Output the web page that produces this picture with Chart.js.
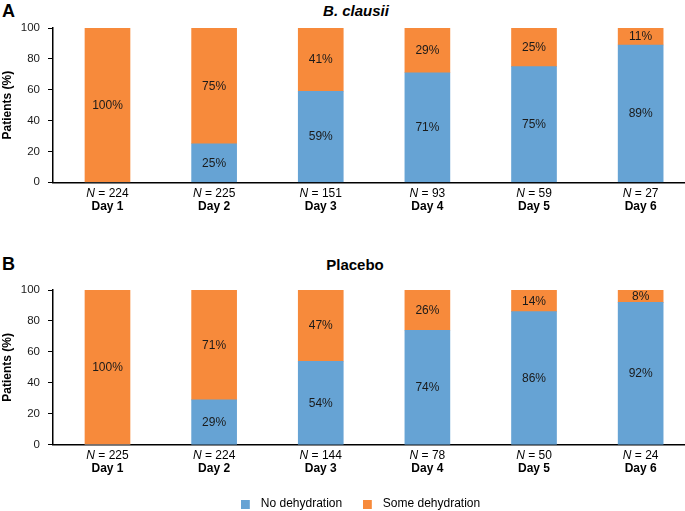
<!DOCTYPE html>
<html><head><meta charset="utf-8">
<script src="https://cdn.jsdelivr.net/npm/chart.js@4"></script>
<style>
html,body{margin:0;padding:0;background:#fff;width:685px;height:511px;overflow:hidden;position:relative;font-family:'Liberation Sans',Arial,sans-serif;}
.wrap{position:absolute;left:0;}
.letter{position:absolute;font-weight:bold;font-size:18px;color:#000;line-height:1;}
.title{position:absolute;font-weight:bold;font-size:15px;color:#000;line-height:1;transform:translateX(-50%);white-space:nowrap;}
</style></head><body>
<div class="letter" style="left:2px;top:2px">A</div>
<div class="title" style="left:356px;top:3px"><i>B. clausii</i></div>
<div class="letter" style="left:2px;top:255px">B</div>
<div class="title" style="left:355px;top:257px">Placebo</div>
<div class="wrap" style="top:0;width:685px;height:230px"><canvas id="cA"></canvas></div>
<div class="wrap" style="top:262px;width:721px;height:258px"><canvas id="cB"></canvas></div>
<script>
// ---- data ----
const days = ['Day 1','Day 2','Day 3','Day 4','Day 5','Day 6'];
const seriesNames = ['No dehydration','Some dehydration'];
const clausiiNo   = [0, 25, 59, 71, 75, 89];
const clausiiSome = [100, 75, 41, 29, 25, 11];
const clausiiN    = [224, 225, 151, 93, 59, 27];
const placeboNo   = [0, 29, 54, 74, 86, 92];
const placeboSome = [100, 71, 47, 26, 14, 8];
const placeboN    = [225, 224, 144, 78, 50, 24];
const yTicks = [0, 20, 40, 60, 80, 100];

// ---- style ----
const FONT = "'Liberation Sans', Arial, Helvetica, sans-serif";
const BLUE = '#66A3D4', ORANGE = '#F78A3B';
Chart.defaults.font.family = FONT;
Chart.defaults.color = '#1a1a1a';

// legend swatch: 9x9 coloured square on a 14px-wide transparent strip
function swatch(color) {
  const c = document.createElement('canvas');
  c.width = 14; c.height = 9;
  const g = c.getContext('2d');
  g.fillStyle = color;
  g.fillRect(0, 0, 9, 9);
  return c;
}

const barLabels = {
  id: 'barLabels',
  afterDatasetsDraw(chart) {
    const ctx = chart.ctx;
    ctx.save();
    ctx.font = '12px ' + FONT;
    ctx.fillStyle = '#1a1a1a';
    ctx.textAlign = 'center';
    ctx.textBaseline = 'middle';
    chart.data.datasets.forEach((ds, di) => {
      const meta = chart.getDatasetMeta(di);
      meta.data.forEach((el, i) => {
        const v = ds.data[i].y;
        if (!v) return;
        const p = el.getProps(['x', 'y', 'base'], true);
        ctx.fillText(v + '%', p.x, (p.y + p.base) / 2 + 0.5);
      });
    });
    ctx.restore();
  }
};

const xLabels = {
  id: 'xLabels',
  afterDraw(chart, args, opts) {
    const ctx = chart.ctx;
    const xs = chart.scales.x;
    const b = chart.chartArea.bottom;
    ctx.save();
    ctx.fillStyle = '#000';
    ctx.textBaseline = 'middle';
    opts.ns.forEach((n, i) => {
      const x = xs.getPixelForValue(i + 1);
      const fI = 'italic 12px ' + FONT, fR = '12px ' + FONT;
      ctx.font = fI; const w1 = ctx.measureText('N').width;
      const rest = ' = ' + n;
      ctx.font = fR; const w2 = ctx.measureText(rest).width;
      const sx = x - (w1 + w2) / 2;
      ctx.textAlign = 'left';
      ctx.font = fI; ctx.fillText('N', sx, b + 11);
      ctx.font = fR; ctx.fillText(rest, sx + w1, b + 11);
      ctx.font = 'bold 12px ' + FONT;
      ctx.textAlign = 'center';
      ctx.fillText(days[i], x, b + 24);
    });
    ctx.restore();
  }
};

const X_MIN = 0.489;
function makeChart(id, noVals, someVals, ns, xMax, xH, showLegend) {
  return new Chart(document.getElementById(id), {
    type: 'bar',
    data: {
      datasets: [
        { label: seriesNames[0], data: noVals.map((v, i) => ({ x: i + 1, y: v })), backgroundColor: BLUE, borderWidth: 0, barThickness: 45 },
        { label: seriesNames[1], data: someVals.map((v, i) => ({ x: i + 1, y: v })), backgroundColor: ORANGE, borderWidth: 0, barThickness: 45 }
      ]
    },
    options: {
      animation: false,
      responsive: true,
      maintainAspectRatio: false,
      layout: { padding: { top: 28, left: 0, right: 0, bottom: 0 } },
      plugins: {
        title: { display: false },
        tooltip: { enabled: false },
        legend: {
          display: showLegend, position: 'bottom', align: 'center',
          labels: {
            usePointStyle: true, pointStyleWidth: 14, boxHeight: 9,
            padding: 20.6, font: { size: 12 }, color: '#1a1a1a',
            generateLabels(chart) {
              return chart.data.datasets.map((ds, i) => ({
                text: ds.label, fillStyle: ds.backgroundColor, strokeStyle: ds.backgroundColor,
                lineWidth: 0, pointStyle: swatch(ds.backgroundColor), hidden: false, datasetIndex: i
              }));
            }
          }
        },
        xLabels: { ns: ns }
      },
      scales: {
        x: {
          type: 'linear', min: X_MIN, max: xMax, offset: false, stacked: true,
          grid: { display: false, offset: false },
          border: { display: true, color: '#000', width: 1.5 },
          ticks: { display: false },
          afterFit(s) { s.height = xH; }
        },
        y: {
          min: 0, max: 100, stacked: true,
          afterBuildTicks(s) { s.ticks = yTicks.map(v => ({ value: v })); },
          ticks: { padding: 8, font: { size: 11.5 }, color: '#1a1a1a' },
          grid: { drawOnChartArea: false, drawTicks: true, tickLength: 5, color: '#000', lineWidth: 1 },
          border: { display: true, color: '#000', width: 1.5 },
          title: { display: true, text: 'Patients (%)', font: { size: 12, weight: 'bold' }, color: '#000', padding: { top: 0, bottom: 0 } },
          afterFit(s) { s.width = 53; }
        }
      }
    },
    plugins: [barLabels, xLabels]
  });
}

makeChart('cA', clausiiNo, clausiiSome, clausiiN, 1 + (685 - 107.5) / 106.63, 47.7, false);
makeChart('cB', placeboNo, placeboSome, placeboN, 1 + (721 - 107.5) / 106.63, 32.6, true);
</script>
</body></html>
